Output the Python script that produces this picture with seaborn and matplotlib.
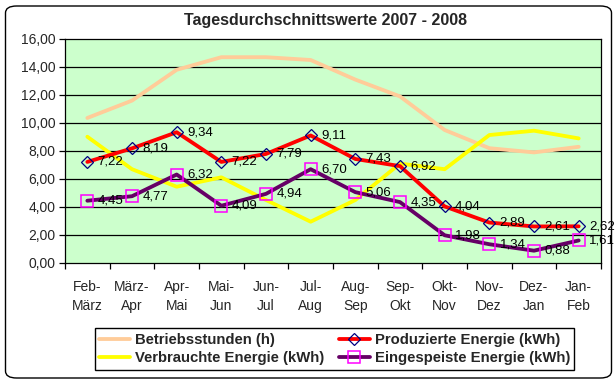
import numpy as np
import pandas as pd
import matplotlib
matplotlib.use("Agg")
import matplotlib.pyplot as plt
import seaborn as sns
from matplotlib.patches import FancyBboxPatch
from matplotlib.ticker import FixedLocator, NullFormatter

categories = ["Feb-\nMärz", "März-\nApr", "Apr-\nMai", "Mai-\nJun", "Jun-\nJul", "Jul-\nAug",
              "Aug-\nSep", "Sep-\nOkt", "Okt-\nNov", "Nov-\nDez", "Dez-\nJan", "Jan-\nFeb"]
betriebsstunden = [10.36, 11.6, 13.8, 14.7, 14.7, 14.5, 13.1, 11.9, 9.5, 8.2, 7.9, 8.3]
verbrauchte = [9.02, 6.7, 5.45, 6.12, 4.5, 2.95, 4.5, 7.1, 6.7, 9.14, 9.45, 8.9]
produzierte = [7.22, 8.19, 9.34, 7.22, 7.79, 9.11, 7.43, 6.92, 4.04, 2.89, 2.61, 2.62]
eingespeiste = [4.45, 4.77, 6.32, 4.09, 4.94, 6.70, 5.06, 4.35, 1.98, 1.34, 0.88, 1.61]

title = "Tagesdurchschnittswerte 2007 - 2008"
names = ["Betriebsstunden (h)", "Verbrauchte Energie (kWh)",
         "Produzierte Energie (kWh)", "Eingespeiste Energie (kWh)"]

sns.set_theme(style="white")
plt.rcParams["font.family"] = ["Liberation Sans", "DejaVu Sans"]

W, H = 616, 384
fig = plt.figure(figsize=(W / 100, H / 100), dpi=100)
ax = fig.add_axes([65 / W, 1 - 263 / H, 536 / W, 224 / H])
ax.set_facecolor("#CCFFCC")

# outer rounded frame
frame = FancyBboxPatch((5.5 / W, 6 / H), 606 / W, 372 / H,
                       boxstyle="round,pad=0,rounding_size=0.018",
                       transform=fig.transFigure, fill=False, edgecolor="black",
                       linewidth=1.0, zorder=0)
fig.patches.append(frame)

x = list(range(len(categories)))
df = pd.DataFrame({"x": x, "b": betriebsstunden, "v": verbrauchte,
                   "p": produzierte, "e": eingespeiste})

for y_val in range(2, 16, 2):
    ax.axhline(y_val, color="black", linewidth=0.9, zorder=1)

lw = 2.75
sns.lineplot(data=df, x="x", y="b", ax=ax, color="#FFCC99", linewidth=lw, label=names[0], zorder=3)
sns.lineplot(data=df, x="x", y="v", ax=ax, color="#FFFF00", linewidth=lw, label=names[1], zorder=3)
sns.lineplot(data=df, x="x", y="p", ax=ax, color="#FF0000", linewidth=lw, label=names[2], zorder=4,
             marker="D", markersize=6.5, markerfacecolor="none", markeredgecolor="#000080",
             markeredgewidth=0.9)
sns.lineplot(data=df, x="x", y="e", ax=ax, color="#660066", linewidth=lw, label=names[3], zorder=4,
             marker="s", markersize=8.5, markerfacecolor="none", markeredgecolor="#FF00FF",
             markeredgewidth=1.1)

def fmt(v):
    return f"{v:.2f}".replace(".", ",")

for xi, v in zip(x, produzierte):
    ax.annotate(fmt(v), (xi, v), xytext=(7.5, 0), textcoords="offset points",
                va="center", ha="left", fontsize=9.5, color="black", zorder=6,
                annotation_clip=False)
for xi, v in zip(x, eingespeiste):
    ax.annotate(fmt(v), (xi, v), xytext=(7.5, 0), textcoords="offset points",
                va="center", ha="left", fontsize=9.5, color="black", zorder=6,
                annotation_clip=False)

ax.set_xlim(-0.5, len(categories) - 0.5)
ax.set_ylim(0, 16)
ax.set_yticks(np.arange(0, 17, 2))
ax.set_yticklabels([fmt(v) for v in np.arange(0, 17, 2)], fontsize=10)
ax.set_xticks(x)
ax.set_xticklabels(categories, fontsize=10, linespacing=1.5)
ax.xaxis.set_minor_locator(FixedLocator(np.arange(-0.5, len(categories), 1.0)))
ax.xaxis.set_minor_formatter(NullFormatter())
ax.tick_params(axis="x", which="major", length=0, pad=12)
ax.tick_params(axis="x", which="minor", length=4, width=0.9, color="black", direction="out", bottom=True)
ax.tick_params(axis="y", which="major", length=4, width=0.9, color="black", direction="out", left=True, pad=3)
ax.set_xlabel("")
ax.set_ylabel("")
for s in ax.spines.values():
    s.set_color("black")
    s.set_linewidth(0.9)

fig.text(325.5 / W, 1 - 20 / H, title, ha="center", va="center", fontsize=11.5, fontweight="bold")

ax.legend_.remove()
handles, labels = ax.get_legend_handles_labels()
leg = fig.legend(handles, labels, ncol=2, loc="center",
                 bbox_to_anchor=(334.5 / W, 1 - 349 / H),
                 frameon=True, fancybox=False, edgecolor="black", framealpha=1,
                 prop={"weight": "bold", "size": 10.7}, handlelength=2.1,
                 handletextpad=0.3, columnspacing=1.0, borderpad=0.3, labelspacing=0.3,
                 borderaxespad=0)
leg.get_frame().set_linewidth(1.0)

fig.savefig("out.png", dpi=100)
